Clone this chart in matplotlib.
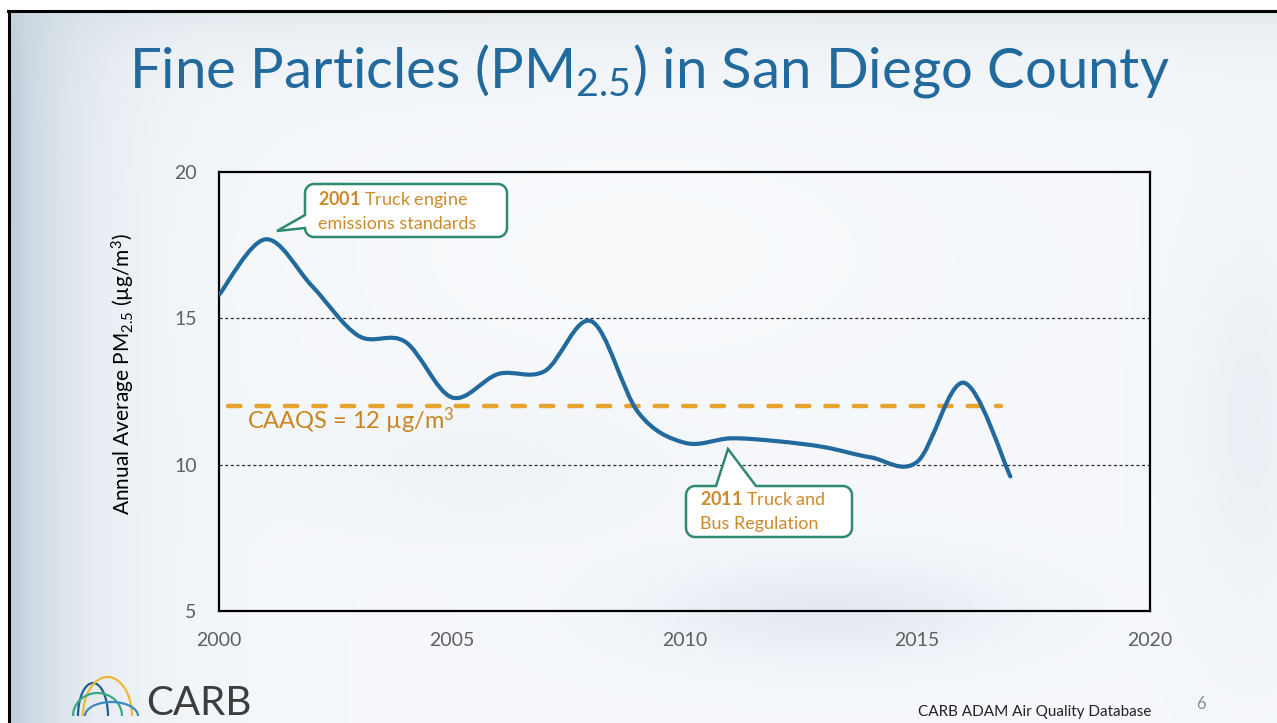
#!/usr/bin/env python3
"""San Diego County annual PM2.5 slide, redrawn with matplotlib -> out.png"""
import numpy as np
import matplotlib
matplotlib.use("Agg")
import matplotlib.pyplot as plt
from matplotlib.path import Path
from matplotlib.patches import PathPatch, Polygon, Arc
from matplotlib.lines import Line2D
from matplotlib.transforms import IdentityTransform

# data
years = [2000, 2001, 2002, 2003, 2004, 2005, 2006, 2007, 2008,
         2009, 2010, 2011, 2012, 2013, 2014, 2015, 2016, 2017]
pm25 = [15.8, 17.7, 16.1, 14.4, 14.2, 12.3, 13.1, 13.2, 14.9,
        11.8, 10.75, 10.9, 10.8, 10.6, 10.25, 10.1, 12.8, 9.6]
caaqs = 12.0
caaqs_span = [2000.2, 2016.8]
x_ticks = [2000, 2005, 2010, 2015, 2020]
y_ticks = [5, 10, 15, 20]
grid_levels = [10, 15]

title = r"Fine Particles (PM$_{\mathrm{2.5}}$) in San Diego County"
ylabel = r"Annual Average PM$_{\mathrm{2.5}}$ (µg/m$^{\mathrm{3}}$)"
caaqs_label = r"CAAQS = 12 µg/m$^{\mathrm{3}}$"
note_2001 = [r"$\mathbf{2001}$ Truck engine", "emissions standards"]
note_2011 = [r"$\mathbf{2011}$ Truck and", "Bus Regulation"]
source = "CARB ADAM Air Quality Database"

W, H, DPI = 1277, 723, 100
BLUE = "#226A9D"
ORANGE = "#E8A22E"
GOLD = "#CC8A2C"
GREEN = "#2E8B6F"


def background():
    yy, xx = np.mgrid[0:H, 0:W].astype(float)
    img = np.ones((H, W, 3)) * np.array([0.962, 0.972, 0.984])

    def blend(w, color):
        img[:] = img * (1 - w[..., None]) + np.array(color) * w[..., None]

    blend(np.exp(-(xx - 9) / 65) * 0.85, (0.70, 0.77, 0.83))
    blend(np.exp(-(yy - 10) / 40) * 0.45, (0.80, 0.85, 0.87))
    blend(0.5 * np.exp(-((xx - 640) / 250) ** 2 - ((yy - 250) / 120) ** 2), (0.99, 0.995, 1.0))
    blend(0.55 * np.exp(-((xx - 830) / 180) ** 2 - ((yy - 610) / 50) ** 2), (0.85, 0.87, 0.92))
    blend(0.30 * np.exp(-((xx - 480) / 160) ** 2 - ((yy - 470) / 60) ** 2), (0.88, 0.90, 0.93))
    blend(0.45 * np.exp(-((xx - 1250) / 70) ** 2 - ((yy - 420) / 200) ** 2), (0.88, 0.90, 0.93))
    img[:10, :] = 1.0
    img[:, :8] = 1.0
    return img


def smooth_path(xs, ys):
    # Catmull-Rom style bezier through every point (like an Excel smoothed line)
    pts = np.column_stack([xs, ys]).astype(float)
    n = len(pts)
    verts = [pts[0]]
    codes = [Path.MOVETO]
    for i in range(n - 1):
        p0 = pts[i - 1] if i > 0 else pts[i]
        p1 = pts[i]
        p2 = pts[i + 1]
        p3 = pts[i + 2] if i + 2 < n else pts[i + 1]
        verts += [p1 + (p2 - p0) / 6, p2 - (p3 - p1) / 6, p2]
        codes += [Path.CURVE4] * 3
    return Path(verts, codes)


def callout(x0, y0, x1, y1, r, side, a, b, tip):
    # pixel coords, y pointing down
    def arc(cx, cy, t0, t1):
        t = np.radians(np.linspace(t0, t1, 8))
        return [(cx + r * np.cos(v), cy + r * np.sin(v)) for v in t]

    pts = [(x0 + r, y0)]
    if side == "top":
        pts += [(a, y0), tip, (b, y0)]
    pts += arc(x1 - r, y0 + r, -90, 0)
    pts += arc(x1 - r, y1 - r, 0, 90)
    pts += arc(x0 + r, y1 - r, 90, 180)
    if side == "left":
        pts += [(x0, b), tip, (x0, a)]
    pts += arc(x0 + r, y0 + r, 180, 270)
    return [(x, H - y) for x, y in pts]


def fig_text(fig, x, y, s, **kw):
    return fig.text(x / W, 1 - y / H, s, **kw)


def main():
    plt.rcParams["font.family"] = ["Lato", "DejaVu Sans"]
    plt.rcParams["mathtext.fontset"] = "custom"
    plt.rcParams["mathtext.rm"] = "Lato"
    plt.rcParams["mathtext.it"] = "Lato:italic"
    plt.rcParams["mathtext.bf"] = "Lato:bold"

    fig = plt.figure(figsize=(W / DPI, H / DPI), dpi=DPI)
    bg = fig.add_axes([0, 0, 1, 1])
    bg.imshow(background(), aspect="auto", extent=(0, W, H, 0), interpolation="bilinear")
    bg.set_axis_off()

    # slide border
    fig.add_artist(Line2D([8, W], [H - 11, H - 11], color="black", lw=2.2, transform=IdentityTransform()))
    fig.add_artist(Line2D([9, 9], [0, H - 11], color="black", lw=2.2, transform=IdentityTransform()))

    ax = fig.add_axes([219 / W, 1 - 611 / H, (1150 - 219) / W, (611 - 172) / H])
    ax.set_facecolor("none")
    ax.set_xlim(2000, 2020)
    ax.set_ylim(5, 20)
    ax.set_xticks(x_ticks)
    ax.set_yticks(y_ticks)
    ax.tick_params(length=0, labelsize=14, colors="#5f5f5f")
    ax.tick_params(axis="x", pad=15)
    ax.tick_params(axis="y", pad=16)
    for s in ax.spines.values():
        s.set_color("black")
        s.set_linewidth(1.6)

    for lv in grid_levels:
        ax.axhline(lv, color="#333333", lw=0.9, ls=(0, (2.5, 2)), zorder=1)

    ax.plot(caaqs_span, [caaqs, caaqs], color=ORANGE, lw=3.2, ls=(0, (2.8, 3.6)),
            dash_capstyle="round", zorder=2)
    ax.add_patch(PathPatch(smooth_path(years, pm25), fill=False, ec=BLUE, lw=3.0,
                           capstyle="round", joinstyle="round", zorder=3))

    # callouts
    fig.add_artist(Polygon(callout(305, 184, 507, 237, 9, "left", 215, 228, (277, 231)),
                           closed=True, transform=IdentityTransform(), fc="white", ec=GREEN, lw=1.8))
    fig.add_artist(Polygon(callout(686, 486, 852, 537, 9, "top", 716, 756, (728, 449)),
                           closed=True, transform=IdentityTransform(), fc="white", ec=GREEN, lw=1.8))
    for i, line in enumerate(note_2001):
        fig_text(fig, 318, 199 + 25 * i, line, fontsize=13, color=GOLD, ha="left", va="center")
    for i, line in enumerate(note_2011):
        fig_text(fig, 700, 499 + 25 * i, line, fontsize=13, color=GOLD, ha="left", va="center")

    fig_text(fig, 247, 421, caaqs_label, fontsize=17, color="#C8861E", ha="left", va="center")
    fig_text(fig, 123, 374, ylabel, fontsize=15, color="black", rotation=90, ha="center", va="center")
    fig_text(fig, 649, 88, title, fontsize=40.5, color=BLUE, ha="center", va="baseline")

    # footer
    fig_text(fig, 1035, 712, source, fontsize=11, color="#222222", ha="center", va="center")
    fig_text(fig, 1201, 704, "6", fontsize=12, color="#8a8a8a", ha="center", va="center")
    fig_text(fig, 146, 715, "CARB", fontsize=29, color="#3d3d3d", ha="left", va="baseline")
    for (xa, xb, top, col) in [(78, 108, 683, "#1F5F8F"), (83, 132, 677, "#EDB83A"),
                               (73, 122, 693, "#3BA883"), (85, 138, 702, "#3E86C4")]:
        base = 716
        fig.add_artist(Arc(((xa + xb) / 2, H - base), xb - xa, 2 * (base - top), theta1=0, theta2=180,
                           color=col, lw=1.6, transform=IdentityTransform()))

    fig.savefig("out.png", dpi=DPI)
    plt.close(fig)


if __name__ == "__main__":
    main()
